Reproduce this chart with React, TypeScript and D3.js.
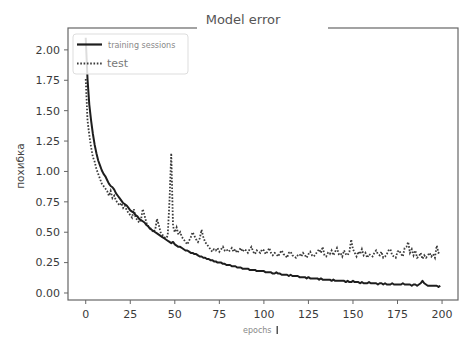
import React from "react";
import * as d3 from "d3";

const epochs: number[] = Array.from({ length: 200 }, (_, i) => i);

const training: number[] = [
  2.10, 1.76, 1.55, 1.42, 1.31, 1.22, 1.15, 1.09, 1.05, 1.01,
  0.98, 0.96, 0.93, 0.90, 0.88, 0.87, 0.85, 0.82, 0.80, 0.78,
  0.76, 0.74, 0.73, 0.72, 0.70, 0.68, 0.67, 0.66, 0.64, 0.63,
  0.61, 0.60, 0.59, 0.58, 0.56, 0.55, 0.53, 0.52, 0.51, 0.50,
  0.49, 0.48, 0.47, 0.46, 0.45, 0.44, 0.43, 0.42, 0.41, 0.42,
  0.40, 0.39, 0.38, 0.38, 0.37, 0.36, 0.35, 0.35, 0.34, 0.33,
  0.33, 0.32, 0.32, 0.31, 0.30, 0.30, 0.29, 0.29, 0.28, 0.28,
  0.27, 0.27, 0.26, 0.26, 0.25, 0.25, 0.25, 0.24, 0.24, 0.23,
  0.23, 0.23, 0.22, 0.22, 0.22, 0.21, 0.21, 0.21, 0.20, 0.20,
  0.20, 0.20, 0.19, 0.19, 0.19, 0.19, 0.18, 0.18, 0.18, 0.18,
  0.18, 0.17, 0.17, 0.17, 0.17, 0.16, 0.16, 0.17, 0.16, 0.16,
  0.15, 0.15, 0.15, 0.15, 0.14, 0.15, 0.14, 0.14, 0.14, 0.14,
  0.13, 0.13, 0.13, 0.13, 0.12, 0.13, 0.12, 0.12, 0.12, 0.12,
  0.12, 0.11, 0.12, 0.11, 0.11, 0.11, 0.11, 0.11, 0.10, 0.11,
  0.10, 0.10, 0.10, 0.10, 0.10, 0.10, 0.09, 0.10, 0.09, 0.09,
  0.10, 0.09, 0.09, 0.09, 0.08, 0.09, 0.08, 0.08, 0.08, 0.09,
  0.08, 0.08, 0.08, 0.08, 0.07, 0.08, 0.08, 0.07, 0.08, 0.07,
  0.07, 0.07, 0.08, 0.07, 0.07, 0.07, 0.07, 0.07, 0.08, 0.07,
  0.07, 0.07, 0.07, 0.06, 0.07, 0.07, 0.06, 0.07, 0.08, 0.10,
  0.08, 0.07, 0.06, 0.06, 0.06, 0.06, 0.06, 0.06, 0.05, 0.06,
];

const test: number[] = [
  1.76, 1.42, 1.30, 1.20, 1.12, 1.08, 1.02, 0.98, 0.94, 0.90,
  0.88, 0.86, 0.84, 0.80, 0.84, 0.78, 0.80, 0.76, 0.74, 0.72,
  0.74, 0.70, 0.72, 0.68, 0.66, 0.64, 0.62, 0.69, 0.62, 0.60,
  0.58, 0.60, 0.69, 0.64, 0.58, 0.55, 0.54, 0.52, 0.50, 0.52,
  0.61, 0.56, 0.50, 0.48, 0.46, 0.45, 0.47, 0.75, 1.15, 0.55,
  0.50, 0.54, 0.48, 0.50, 0.46, 0.44, 0.42, 0.40, 0.43, 0.46,
  0.50, 0.47, 0.44, 0.42, 0.45, 0.52, 0.46, 0.42, 0.40, 0.38,
  0.36, 0.34, 0.36, 0.35, 0.37, 0.34, 0.36, 0.38, 0.35, 0.36,
  0.34, 0.35, 0.37, 0.34, 0.36, 0.33, 0.35, 0.37, 0.34, 0.36,
  0.35, 0.33, 0.36, 0.38, 0.34, 0.32, 0.35, 0.34, 0.33, 0.36,
  0.35, 0.32, 0.34, 0.37, 0.33, 0.31, 0.33, 0.32, 0.30, 0.33,
  0.35, 0.32, 0.31, 0.29, 0.33, 0.34, 0.31, 0.30, 0.29, 0.31,
  0.32, 0.30, 0.33, 0.31, 0.29, 0.32, 0.34, 0.31, 0.30, 0.32,
  0.34, 0.36, 0.33, 0.38, 0.31, 0.30, 0.33, 0.32, 0.35, 0.31,
  0.34, 0.37, 0.32, 0.33, 0.30, 0.35, 0.32, 0.31, 0.34, 0.44,
  0.36, 0.33, 0.30, 0.34, 0.32, 0.36, 0.31, 0.33, 0.29, 0.32,
  0.31, 0.30, 0.33, 0.35, 0.32, 0.31, 0.34, 0.29, 0.30, 0.32,
  0.35, 0.36, 0.31, 0.30, 0.29, 0.34, 0.35, 0.32, 0.30, 0.37,
  0.38, 0.42, 0.33, 0.36, 0.31, 0.35, 0.29, 0.30, 0.33, 0.28,
  0.31, 0.29, 0.31, 0.33, 0.30, 0.32, 0.29, 0.39, 0.33, 0.34,
];

const xTicks: number[] = [0, 25, 50, 75, 100, 125, 150, 175, 200];
const yTicks: number[] = [0, 0.25, 0.5, 0.75, 1.0, 1.25, 1.5, 1.75, 2.0];
const titleText = "Model error";
const yLabel = "похибка";
const xLabel = "epochs";
const legendLabels: string[] = ["training sessions", "test"];

export default function App() {
  const W = 467;
  const H = 341;
  const left = 68, right = 458, top = 28, bottom = 300;
  const x = d3.scaleLinear().domain([-9.95, 208.95]).range([left, right]);
  const y = d3.scaleLinear().domain([-0.0576, 2.18]).range([bottom, top]);
  const line = d3
    .line<number>()
    .x((_, i) => x(epochs[i]))
    .y((d) => y(d));
  const font = "'DejaVu Sans', sans-serif";
  const tickColor = "#3a3a3a";
  const dotted = "1.6,1.7";
  return (
    <svg
      width={W}
      height={H}
      style={{ position: "absolute", left: 0, top: 0, background: "#fff" }}
      fontFamily={font}
    >
      <rect x={0} y={0} width={W} height={H} fill="#fff" />
      <defs>
        <clipPath id="plotclip">
          <rect x={left} y={top} width={right - left} height={bottom - top} />
        </clipPath>
      </defs>
      <g clipPath="url(#plotclip)">
        <path
          d={line(test) || ""}
          fill="none"
          stroke="#3a3a3a"
          strokeWidth={1.8}
          strokeDasharray={dotted}
        />
        <path
          d={line(training) || ""}
          fill="none"
          stroke="#1e1e1e"
          strokeWidth={2}
          strokeLinejoin="round"
        />
      </g>
      {/* frame */}
      <rect
        x={left}
        y={top}
        width={right - left}
        height={bottom - top}
        fill="none"
        stroke="#666"
        strokeWidth={1.2}
      />
      {/* y axis */}
      {yTicks.map((t) => (
        <g key={"y" + t}>
          <line x1={left - 4} x2={left} y1={y(t)} y2={y(t)} stroke="#666" strokeWidth={1} />
          <text
            x={left - 8}
            y={y(t)}
            dy="0.35em"
            textAnchor="end"
            fontSize={11}
            fill={tickColor}
          >
            {t.toFixed(2)}
          </text>
        </g>
      ))}
      {/* x axis */}
      {xTicks.map((t) => (
        <g key={"x" + t}>
          <line x1={x(t)} x2={x(t)} y1={bottom} y2={bottom + 4} stroke="#666" strokeWidth={1} />
          <text x={x(t)} y={bottom + 18} textAnchor="middle" fontSize={11} fill={tickColor}>
            {t}
          </text>
        </g>
      ))}
      {/* title with white backdrop */}
      <rect x={197} y={6} width={131} height={25} fill="#fff" />
      <text x={243} y={24} textAnchor="middle" fontSize={13} fill="#555">
        {titleText}
      </text>
      {/* y label */}
      <text
        transform={`translate(24, 166) rotate(-90)`}
        textAnchor="middle"
        fontSize={10.5}
        fill="#444"
      >
        {yLabel}
      </text>
      {/* x label */}
      <text x={243} y={333} fontSize={8} fill="#888">
        {xLabel}
      </text>
      <rect x={276.5} y={326} width={1.5} height={8} fill="#555" />
      {/* legend */}
      <rect
        x={73}
        y={34}
        width={115}
        height={40}
        rx={3}
        fill="#fff"
        fillOpacity={0.85}
        stroke="#ddd"
        strokeWidth={1}
      />
      <line x1={77} x2={102} y1={44.5} y2={44.5} stroke="#1e1e1e" strokeWidth={2.2} />
      <text x={108} y={48} fontSize={8} fill="#888">
        {legendLabels[0]}
      </text>
      <line
        x1={77}
        x2={102}
        y1={63.5}
        y2={63.5}
        stroke="#3a3a3a"
        strokeWidth={1.8}
        strokeDasharray={dotted}
      />
      <text x={107} y={67} fontSize={11} fill="#777">
        {legendLabels[1]}
      </text>
    </svg>
  );
}
